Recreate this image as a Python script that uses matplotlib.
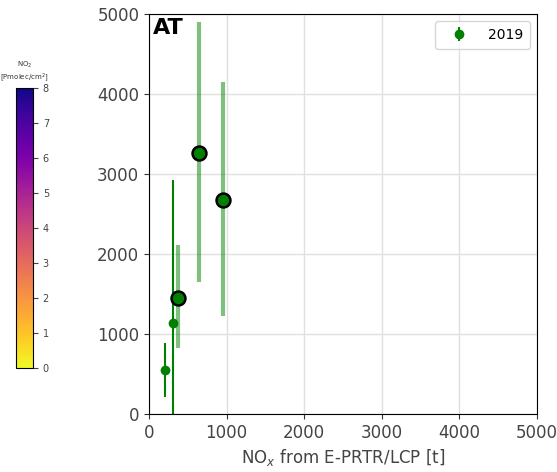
import matplotlib
matplotlib.use("Agg")
import matplotlib.pyplot as plt
import matplotlib as mpl

# emissions (t) vs. estimated values, 2019
x_small = [206, 310]
y_small = [550, 1140]
lo_small = [210, 0]
hi_small = [890, 2925]

x_big = [375, 645, 955]
y_big = [1450, 3265, 2675]
lo_big = [825, 1655, 1225]
hi_big = [2110, 4905, 4150]

year = "2019"
country = "AT"

fig = plt.figure(figsize=(5.57, 4.72), dpi=100)
ax = fig.add_axes([0.2675, 0.1229, 0.6966, 0.8475])

ax.grid(True, color="#e0e0e0", linewidth=1.0)
ax.set_axisbelow(True)

# thin bars for the small points
for x, y, lo, hi in zip(x_small, y_small, lo_small, hi_small):
    ax.errorbar(x, y, yerr=[[y - lo], [hi - y]], fmt="o", color="green",
                ms=6, elinewidth=1.5, capsize=0)

# thick translucent bars for the big points
for x, y, lo, hi in zip(x_big, y_big, lo_big, hi_big):
    ax.errorbar(x, y, yerr=[[y - lo], [hi - y]], fmt="none", ecolor="green",
                alpha=0.5, elinewidth=3, capsize=0)
ax.plot(x_big, y_big, "o", color="green", mec="black", mew=1.8, ms=10, ls="none")

h = ax.errorbar([], [], yerr=[], fmt="o", color="green", ms=6)
ax.legend([h], [year], loc="upper right", fontsize=10, handlelength=2.5,
          borderpad=0.5)

ax.set_xlim(0, 5000)
ax.set_ylim(0, 5000)
ax.set_xticks(range(0, 5001, 1000))
ax.set_yticks(range(0, 5001, 1000))
ax.tick_params(labelsize=12, colors="#333333", labelcolor="#444444")
ax.set_xlabel("NO$_x$ from E-PRTR/LCP [t]", fontsize=12, color="#444444")
ax.text(0.01, 0.99, country, transform=ax.transAxes, fontsize=16,
        fontweight="bold", va="top", ha="left")

cax = fig.add_axes([0.0287, 0.2203, 0.0305, 0.593])
norm = mpl.colors.Normalize(0, 8)
cb = fig.colorbar(mpl.cm.ScalarMappable(norm=norm, cmap="plasma_r"), cax=cax)
cb.set_ticks(range(0, 9))
cb.ax.tick_params(labelsize=7, colors="#444444")
cb.ax.set_title("NO$_2$\n[Pmolec/cm$^2$]", fontsize=5, color="#333333")

fig.savefig("out.png", dpi=100)
